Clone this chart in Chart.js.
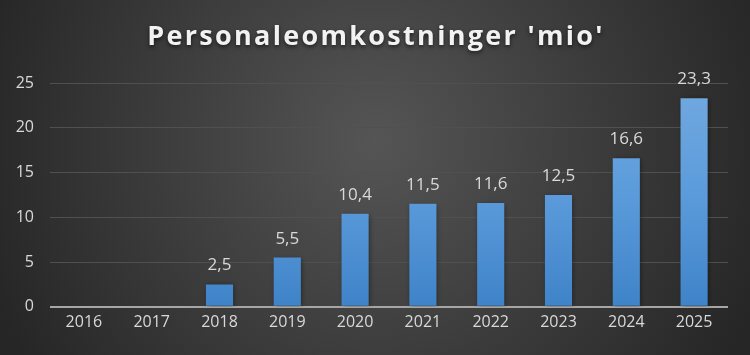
<!DOCTYPE html>
<html>
<head>
<meta charset="utf-8">
<script src="https://cdn.jsdelivr.net/npm/chart.js@4"></script>
<style>
html,body{margin:0;padding:0;background:#333;}
#wrap{width:750px;height:355px;position:relative;}
</style>
</head>
<body>
<div id="wrap"><canvas id="c" width="750" height="355"></canvas></div>
<script>
const categories = ['2016','2017','2018','2019','2020','2021','2022','2023','2024','2025'];
const values = [null, null, 2.5, 5.5, 10.4, 11.5, 11.6, 12.5, 16.6, 23.3];
const yTicks = [0, 5, 10, 15, 20, 25];
const titleText = "Personaleomkostninger 'mio'";

const FONT = "'Open Sans', 'Noto Sans', sans-serif";

const bgPlugin = {
  id: 'bg',
  beforeDraw(chart) {
    const {ctx, width, height} = chart;
    ctx.save();
    const g = ctx.createRadialGradient(width/2, height*0.4, 0, width/2, height*0.4, width*0.55);
    g.addColorStop(0, '#555555');
    g.addColorStop(1, '#262626');
    ctx.fillStyle = g;
    ctx.fillRect(0, 0, width, height);
    ctx.restore();
  }
};

const titlePlugin = {
  id: 'ttl',
  afterDraw(chart) {
    const {ctx, width} = chart;
    ctx.save();
    ctx.font = "bold 27px " + FONT;
    ctx.letterSpacing = '2.3px';
    ctx.fillStyle = '#f2f2f2';
    ctx.textAlign = 'center';
    ctx.textBaseline = 'middle';
    ctx.shadowColor = 'rgba(0,0,0,0.6)';
    ctx.shadowBlur = 4;
    ctx.shadowOffsetY = 2;
    ctx.fillText(titleText, width/2 + 1, 37);
    ctx.restore();
  }
};

const shadowPlugin = {
  id: 'shd',
  beforeDatasetsDraw(chart) {
    const ctx = chart.ctx;
    ctx.save();
    ctx.shadowColor = 'rgba(0,0,0,0.45)';
    ctx.shadowBlur = 5;
    ctx.shadowOffsetX = 1;
    ctx.shadowOffsetY = 1;
  },
  afterDatasetsDraw(chart) {
    chart.ctx.restore();
  }
};

const labelPlugin = {
  id: 'lbl',
  afterDatasetsDraw(chart) {
    const {ctx} = chart;
    const meta = chart.getDatasetMeta(0);
    ctx.save();
    ctx.font = "17px " + FONT;
    ctx.fillStyle = '#d9d9d9';
    ctx.textAlign = 'center';
    ctx.textBaseline = 'alphabetic';
    meta.data.forEach((bar, i) => {
      const v = values[i];
      if (v === null || v === undefined) return;
      ctx.fillText(v.toFixed(1).replace('.', ','), bar.x, bar.y - 14);
    });
    ctx.restore();
  }
};

function barGradient(ctx) {
  const chart = ctx.chart;
  const area = chart.chartArea;
  if (!area) return '#5b9bd5';
  const g = chart.ctx.createLinearGradient(0, area.top, 0, area.bottom);
  g.addColorStop(0, '#72a9e0');
  g.addColorStop(0.5, '#5b9bdb');
  g.addColorStop(1, '#3f83c8');
  return g;
}

new Chart(document.getElementById('c'), {
  type: 'bar',
  data: {
    labels: categories,
    datasets: [{
      data: values,
      backgroundColor: barGradient,
      borderWidth: 0,
      barPercentage: 0.4,
      categoryPercentage: 1.0
    }]
  },
  plugins: [bgPlugin, shadowPlugin, labelPlugin, titlePlugin],
  options: {
    responsive: false,
    animation: false,
    devicePixelRatio: 1,
    layout: { padding: { top: 83, right: 22, bottom: 17, left: 0 } },
    plugins: { legend: { display: false }, tooltip: { enabled: false }, title: { display: false } },
    scales: {
      x: {
        grid: { display: false, drawTicks: false },
        border: { display: false },
        ticks: { color: '#d9d9d9', font: { size: 16, family: FONT }, padding: 6 }
      },
      y: {
        min: 0, max: 25,
        afterBuildTicks(axis) { axis.ticks = yTicks.map(v => ({ value: v })); },
        afterFit(axis) { axis.width = 50; },
        grid: {
          drawTicks: false,
          lineWidth: (c) => c.tick && c.tick.value === 0 ? 2 : 1,
          color: (c) => c.tick && c.tick.value === 0 ? '#a6a6a6' : '#505050'
        },
        border: { display: false },
        ticks: { color: '#d9d9d9', font: { size: 16, family: FONT }, padding: 16, stepSize: 5 }
      }
    }
  }
});
</script>
</body>
</html>
